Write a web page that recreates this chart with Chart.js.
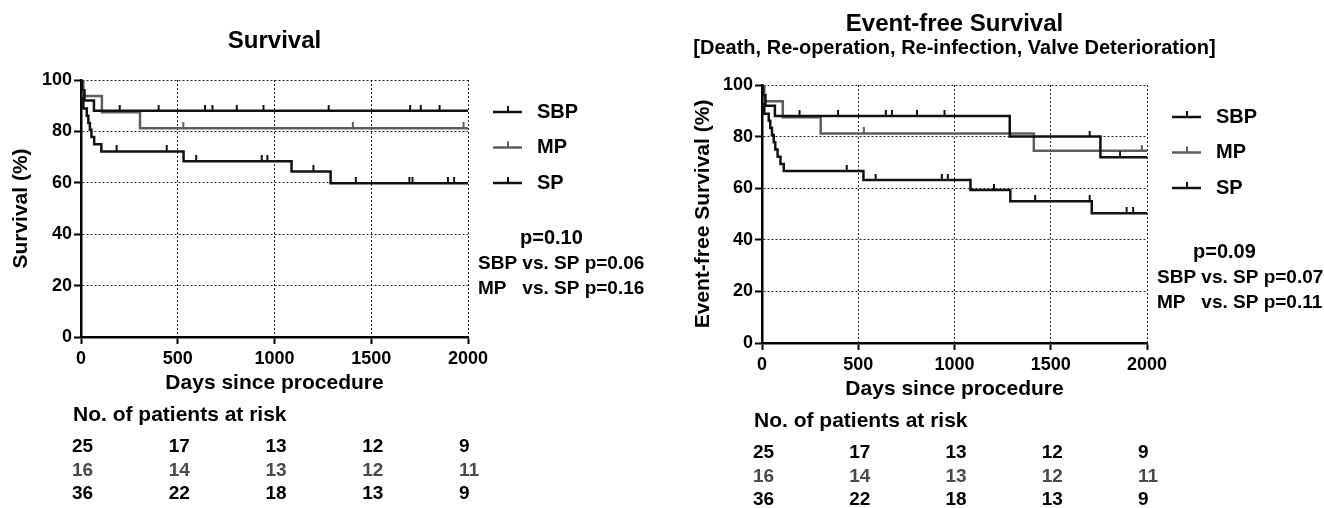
<!DOCTYPE html>
<html>
<head>
<meta charset="utf-8">
<script src="https://cdn.jsdelivr.net/npm/chart.js@4.4.0/dist/chart.umd.min.js"></script>
<style>
  html, body { margin: 0; padding: 0; background: #fff; }
  #wrapper { position: relative; width: 1324px; height: 508px; }
  #canvasLinks { position: absolute; left: 0; top: 0; }
  #canvasRechts { position: absolute; left: 640px; top: 0; }
</style>
</head>
<body>
<div id="wrapper">
  <canvas id="canvasLinks" width="700" height="508"></canvas>
  <canvas id="canvasRechts" width="684" height="508"></canvas>
</div>
<script>
// Gruppen und Patienten unter Risiko
const gruppen = ["SBP", "MP", "SP"];
const risikoTage = [0, 500, 1000, 1500, 2000];
const risikoSBP = [25, 17, 13, 12, 9];
const risikoMP = [16, 14, 13, 12, 11];
const risikoSP = [36, 22, 18, 13, 9];

// Survival (links)
const survSBPTage = [0, 5, 18, 67, 2000];
const survSBPWerte = [100, 96, 92, 88, 88];
const survSBPZensiert = [200, 401, 641, 679, 805, 943, 1280, 1701, 1756, 1853];
const survMPTage = [0, 12, 108, 305, 2000];
const survMPWerte = [100, 93.75, 87.5, 81.25, 81.25];
const survMPZensiert = [529, 1405, 1977];
const survSPTage = [0, 3, 6, 9, 12, 30, 38, 46, 54, 68, 105, 530, 1088, 1290, 2000];
const survSPWerte = [100, 97.2, 94.4, 91.7, 88.9, 86.1, 83.3, 80.6, 77.8, 75, 72.2, 68.4, 64.4, 59.8, 59.8];
const survSPZensiert = [184, 443, 595, 934, 963, 1201, 1420, 1697, 1713, 1896, 1928];

// Event-free Survival (rechts)
const efsSBPTage = [0, 5, 18, 67, 1287, 1758, 2000];
const efsSBPWerte = [100, 96, 92, 88, 80, 72, 72];
const efsSBPZensiert = [195, 395, 643, 675, 805, 948, 1702, 1860];
const efsMPTage = [0, 12, 108, 305, 1412, 2000];
const efsMPWerte = [100, 93.75, 87.5, 81.25, 74.5, 74.5];
const efsMPZensiert = [529, 1973];
const efsSPTage = [0, 3, 6, 9, 12, 35, 43, 52, 61, 69, 81, 96, 113, 527, 1083, 1290, 1713, 2000];
const efsSPWerte = [100, 97.2, 94.4, 91.7, 88.9, 86.1, 83.3, 80.6, 77.8, 75, 72.2, 69.4, 66.7, 63.2, 59.3, 54.9, 50.3, 50.3];
const efsSPZensiert = [440, 590, 934, 965, 1205, 1419, 1702, 1894, 1928];

// p-Werte
const survPGesamt = "p=0.10";
const survPVergleiche = [["SBP", "vs. SP p=0.06"], ["MP", "vs. SP p=0.16"]];
const efsPGesamt = "p=0.09";
const efsPVergleiche = [["SBP", "vs. SP p=0.07"], ["MP", "vs. SP p=0.11"]];

const SCHRIFT = '"Liberation Sans", Arial, Helvetica, sans-serif';
const farbeSchwarz = "#111111";
const farbeGrau = "#5e5e5e";

Chart.defaults.font.family = SCHRIFT;
Chart.defaults.font.weight = "bold";
Chart.defaults.color = "#000";

// Wert der Treppenkurve an einem Zeitpunkt
function wertBei(tage, werte, t) {
  let w = werte[0];
  for (let i = 0; i < tage.length; i++) {
    if (tage[i] <= t) w = werte[i];
  }
  return w;
}

// kleiner senkrechter Strich nach oben als Zensur-Markierung
function zensurBild(farbe) {
  const c = document.createElement("canvas");
  c.width = 4;
  c.height = 12;
  const g = c.getContext("2d");
  g.strokeStyle = farbe;
  g.lineWidth = 2;
  g.beginPath();
  g.moveTo(2, 0);
  g.lineTo(2, 6);
  g.stroke();
  return c;
}

function zusatzPlugin(kurven, untertitel, pGesamt, pVergleiche, masse) {
  return {
    id: "zusatz",
    afterDraw(chart) {
      const ctx = chart.ctx;
      const area = chart.chartArea;
      const xs = chart.scales.x;
      ctx.save();
      ctx.textBaseline = "middle";
      ctx.textAlign = "left";

      // Untertitel (ohne maxWidth, damit er nicht gestaucht wird)
      if (untertitel !== "") {
        ctx.textAlign = "center";
        ctx.fillStyle = "#000";
        ctx.font = "bold 20px " + SCHRIFT;
        ctx.fillText(untertitel, (area.left + area.right) / 2, masse.untertitelY);
        ctx.textAlign = "left";
      }

      // Legende
      kurven.forEach((k, i) => {
        const y = area.top + 32 + i * 35.5;
        const x0 = area.right + 25;
        ctx.strokeStyle = k.farbe;
        ctx.lineWidth = 2.5;
        ctx.beginPath();
        ctx.moveTo(x0, y);
        ctx.lineTo(x0 + 29, y);
        ctx.stroke();
        ctx.lineWidth = 2;
        ctx.beginPath();
        ctx.moveTo(x0 + 15, y);
        ctx.lineTo(x0 + 15, y - 6);
        ctx.stroke();
        ctx.fillStyle = "#000";
        ctx.font = "bold 20px " + SCHRIFT;
        ctx.fillText(k.label, area.right + 69, y);
      });

      // p-Werte
      ctx.fillStyle = "#000";
      ctx.font = "bold 20px " + SCHRIFT;
      ctx.fillText(pGesamt, area.right + masse.pLinks, area.top + masse.pOben);
      ctx.font = "bold 19px " + SCHRIFT;
      const einzug = ctx.measureText(pVergleiche[0][0] + " ").width;
      pVergleiche.forEach((v, i) => {
        const y = area.top + masse.pOben + 26 + i * 24.5;
        ctx.fillText(v[0], area.right + 10, y);
        ctx.fillText(v[1], area.right + 10 + einzug, y);
      });

      // Patienten unter Risiko
      ctx.font = "bold 21px " + SCHRIFT;
      ctx.fillText("No. of patients at risk", area.left - 8, area.bottom + 78);
      ctx.font = "bold 19px " + SCHRIFT;
      kurven.forEach((k, i) => {
        ctx.fillStyle = k.farbe === farbeGrau ? "#4a4a4a" : "#000";
        const y = area.bottom + 110 + i * 23.5;
        k.risiko.forEach((n, j) => {
          ctx.fillText(String(n), xs.getPixelForValue(risikoTage[j]) - 9, y);
        });
      });
      ctx.restore();
    },
  };
}

function erstelleKMDiagramm(canvasID, kurven, titel, untertitel, yTitel, pGesamt, pVergleiche, masse) {
  const datasets = [];
  kurven.forEach((k) => {
    datasets.push({
      label: k.label,
      data: k.tage.map((t, i) => ({ x: t, y: k.werte[i] })),
      stepped: "before",
      borderColor: k.farbe,
      backgroundColor: k.farbe,
      borderWidth: 2.5,
      pointRadius: 0,
      fill: false,
      tension: 0,
    });
    datasets.push({
      label: k.label + " zensiert",
      data: k.zensiert.map((t) => ({ x: t, y: wertBei(k.tage, k.werte, t) })),
      showLine: false,
      pointStyle: zensurBild(k.farbe),
      pointRadius: 4,
      borderColor: k.farbe,
      backgroundColor: k.farbe,
    });
  });

  const gitter = {
    color: "#222",
    lineWidth: 1,
    drawTicks: true,
    tickLength: 7,
    tickColor: "#000",
    tickWidth: 2,
  };
  const rahmen = { display: true, color: "#000", width: 2.5, dash: [2, 2] };

  const ctx = document.getElementById(canvasID).getContext("2d");
  return new Chart(ctx, {
    type: "line",
    data: { datasets: datasets },
    plugins: [zusatzPlugin(kurven, untertitel, pGesamt, pVergleiche, masse)],
    options: {
      responsive: false,
      animation: false,
      events: [],
      layout: {
        padding: { top: 0, left: 0, right: masse.rechts, bottom: masse.unten },
      },
      plugins: {
        legend: { display: false },
        tooltip: { enabled: false },
        title: {
          display: true,
          text: titel,
          fullSize: false,
          color: "#000",
          font: { size: 24, weight: "bold", lineHeight: 1.2 },
          padding: masse.titelPad,
        },
      },
      scales: {
        x: {
          type: "linear",
          min: 0,
          max: 2000,
          afterFit(s) {
            s.height = 60;
          },
          ticks: {
            stepSize: 500,
            autoSkip: false,
            maxRotation: 0,
            padding: 4,
            color: "#000",
            font: { size: 18, weight: "bold" },
            callback: (wert) => String(wert),
          },
          grid: gitter,
          border: rahmen,
          title: {
            display: true,
            text: "Days since procedure",
            color: "#000",
            font: { size: 21, weight: "bold", lineHeight: 1.2 },
            padding: { top: 0, bottom: 1 },
          },
        },
        y: {
          min: 0,
          max: 100,
          afterFit(s) {
            s.width = masse.yBreite;
          },
          ticks: {
            stepSize: 20,
            padding: 2,
            color: "#000",
            font: { size: 18, weight: "bold" },
            callback: (wert) => String(wert),
          },
          grid: gitter,
          border: rahmen,
          title: {
            display: true,
            text: yTitel,
            color: "#000",
            font: { size: 21, weight: "bold", lineHeight: 1.2 },
            padding: { top: masse.yTitelPad, bottom: 0 },
          },
        },
      },
    },
  });
}

const survKurven = [
  { label: gruppen[0], tage: survSBPTage, werte: survSBPWerte, zensiert: survSBPZensiert, farbe: farbeSchwarz, risiko: risikoSBP },
  { label: gruppen[1], tage: survMPTage, werte: survMPWerte, zensiert: survMPZensiert, farbe: farbeGrau, risiko: risikoMP },
  { label: gruppen[2], tage: survSPTage, werte: survSPWerte, zensiert: survSPZensiert, farbe: farbeSchwarz, risiko: risikoSP },
];
const efsKurven = [
  { label: gruppen[0], tage: efsSBPTage, werte: efsSBPWerte, zensiert: efsSBPZensiert, farbe: farbeSchwarz, risiko: risikoSBP },
  { label: gruppen[1], tage: efsMPTage, werte: efsMPWerte, zensiert: efsMPZensiert, farbe: farbeGrau, risiko: risikoMP },
  { label: gruppen[2], tage: efsSPTage, werte: efsSPWerte, zensiert: efsSPZensiert, farbe: farbeSchwarz, risiko: risikoSP },
];

window.chartLinks = erstelleKMDiagramm(
  "canvasLinks", survKurven, "Survival", "", "Survival (%)",
  survPGesamt, survPVergleiche,
  {
    rechts: 232, unten: 111, yBreite: 81, yTitelPad: 8.4,
    titelPad: { top: 27.3, bottom: 23.9 }, untertitelY: 0,
    pLinks: 52, pOben: 158,
  }
);

window.chartRechts = erstelleKMDiagramm(
  "canvasRechts", efsKurven, "Event-free Survival",
  "[Death, Re-operation, Re-infection, Valve Deterioration]",
  "Event-free Survival (%)",
  efsPGesamt, efsPVergleiche,
  {
    rechts: 177, unten: 105, yBreite: 122, yTitelPad: 50.4,
    titelPad: { top: 9.6, bottom: 46.6 }, untertitelY: 48,
    pLinks: 46, pOben: 167,
  }
);
</script>
</body>
</html>
